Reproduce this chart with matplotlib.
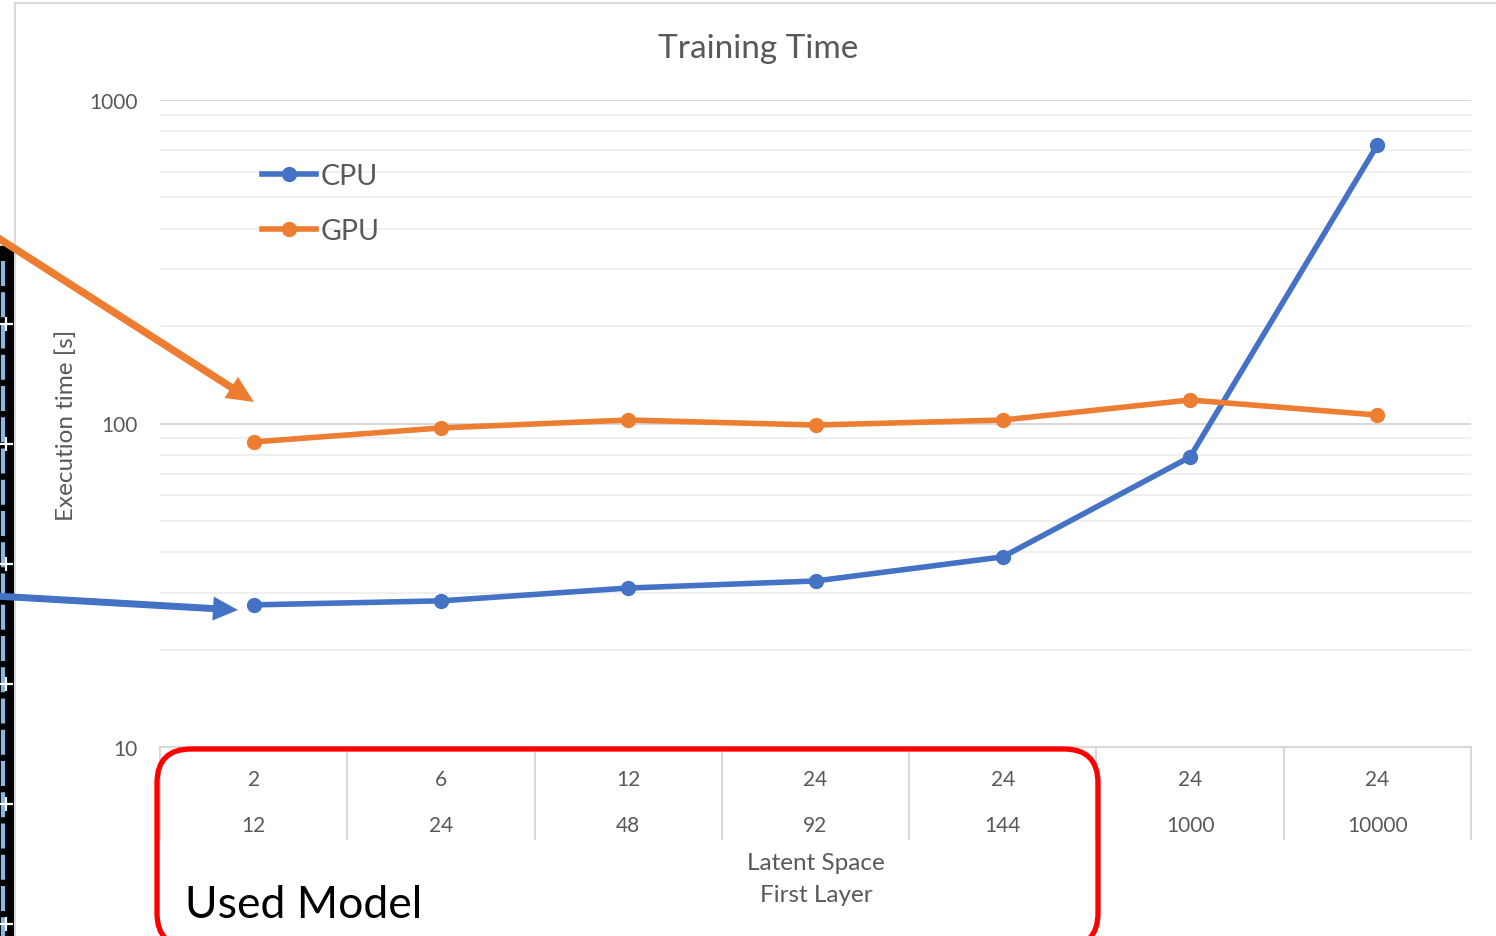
import numpy as np
import matplotlib
matplotlib.use("Agg")
import matplotlib.pyplot as plt
from matplotlib.patches import FancyBboxPatch, Rectangle
from matplotlib.ticker import FixedLocator, NullFormatter, LogLocator

plt.rcParams['font.family'] = ['Lato', 'DejaVu Sans']

# Datos
latent_space = ["2", "6", "12", "24", "24", "24", "24"]
first_layer = ["12", "24", "48", "92", "144", "1000", "10000"]
cpu_time = [27.5, 28.3, 31.0, 32.6, 38.7, 78.8, 726]
gpu_time = [87.7, 96.9, 102.5, 98.9, 102.5, 118.2, 106.2]

W, H = 1496, 937
GRAY_TXT = "#595959"
BLUE = "#4472C4"
ORANGE = "#ED7D31"


def py(y):
    # pixel desde arriba -> coordenada de la capa (origen abajo)
    return H - y


fig = plt.figure(figsize=(W / 100, H / 100), dpi=100)

# capa de fondo en coordenadas de pixel (bordes, franja)
bg = fig.add_axes([0, 0, 1, 1])
bg.set_xlim(0, W)
bg.set_ylim(0, H)
bg.axis("off")

# borde del area del grafico
bg.plot([15, W], [py(4), py(4)], color="#d9d9d9", lw=1.5)
bg.plot([15, 15], [py(4), 0], color="#d9d9d9", lw=1.5)

# franja oscura de la izquierda (recorte de captura)
bg.add_patch(Rectangle((0, 0), 14, py(247), color="black", zorder=1))
bg.plot([3.5, 3.5], [py(262), 0], color="#8ab8e6", lw=3, ls=(0, (6, 1.5)), zorder=2)
marks_y = py(np.arange(325, H, 120))
bg.plot(np.full(len(marks_y), 6), marks_y, ls="none", marker="+", ms=10, mew=1.6,
        color="white", zorder=3)

# ejes principales
x0, x1, ytop, ybot = 160, 1471, 101, 748
ax = fig.add_axes([x0 / W, 1 - ybot / H, (x1 - x0) / W, (ybot - ytop) / H])
ax.set_facecolor("none")
x = np.arange(len(first_layer))

ax.set_yscale("log")
ax.set_ylim(10, 1000)
ax.set_xlim(-0.5, len(x) - 0.5)
ax.yaxis.set_major_locator(FixedLocator([10, 100, 1000]))
ax.set_yticklabels(["10", "100", "1000"])
ax.yaxis.set_minor_locator(LogLocator(base=10, subs=np.arange(2, 10)))
ax.yaxis.set_minor_formatter(NullFormatter())
ax.tick_params(axis="y", which="both", length=0, pad=16, labelsize=15, labelcolor=GRAY_TXT)
ax.set_xticks([])
ax.grid(True, which="major", axis="y", color="#d4d4d4", lw=1.3)
ax.grid(True, which="minor", axis="y", color="#ececec", lw=1.1)
ax.set_axisbelow(True)
for s in ["top", "left", "right"]:
    ax.spines[s].set_visible(False)
ax.spines["bottom"].set_color("#d9d9d9")
ax.spines["bottom"].set_linewidth(1.5)

ax.plot(x, cpu_time, color=BLUE, lw=4.0, marker="o", ms=10, label="CPU", zorder=3)
ax.plot(x, gpu_time, color=ORANGE, lw=4.0, marker="o", ms=10, label="GPU", zorder=3)

# eje de categorias de dos niveles
trans = ax.get_xaxis_transform()
axh = ybot - ytop
for i in range(len(x) + 1):
    ax.plot([i - 0.5, i - 0.5], [0, -92 / axh], transform=trans, color="#d9d9d9",
            lw=1.5, clip_on=False)
for i, (a, b) in enumerate(zip(latent_space, first_layer)):
    ax.text(i, -32 / axh, a, transform=trans, ha="center", va="center",
            fontsize=15, color=GRAY_TXT)
    ax.text(i, -78 / axh, b, transform=trans, ha="center", va="center",
            fontsize=15, color=GRAY_TXT)

fig.text(816 / W, 1 - 864 / H, "Latent Space", ha="center", va="center", fontsize=17.5, color=GRAY_TXT)
fig.text(816 / W, 1 - 896 / H, "First Layer", ha="center", va="center", fontsize=17.5, color=GRAY_TXT)
fig.text(758 / W, 1 - 49 / H, "Training Time", ha="center", va="center", fontsize=24, color=GRAY_TXT)
fig.text(66 / W, 1 - 425 / H, "Execution time [s]", ha="center", va="center", rotation=90,
         fontsize=17.5, color=GRAY_TXT)

leg = ax.legend(loc="upper left", bbox_to_anchor=(262 / W, 1 - 164 / H),
                bbox_transform=fig.transFigure, frameon=False, fontsize=20.5,
                handlelength=1.9, handletextpad=0.15, labelspacing=1.02, borderpad=0,
                borderaxespad=0)
for t in leg.get_texts():
    t.set_color(GRAY_TXT)

# anotaciones: flechas y recuadro rojo
ov = fig.add_axes([0, 0, 1, 1])
ov.set_xlim(0, W)
ov.set_ylim(0, H)
ov.axis("off")
# flecha naranja
sx, sy, tx, ty = -5, py(237), 254, py(403)
ov.arrow(sx, sy, tx - sx, ty - sy, width=7.5, head_width=25, head_length=27,
         length_includes_head=True, color=ORANGE, lw=0)
# flecha azul
sx, sy, tx, ty = -5, py(597), 238, py(611)
ov.arrow(sx, sy, tx - sx, ty - sy, width=7, head_width=24, head_length=25,
         length_includes_head=True, color=BLUE, lw=0)
ov.add_patch(FancyBboxPatch((157, py(948)), 1098 - 157, 948 - 750,
                            boxstyle="round,pad=0,rounding_size=34",
                            fill=False, ec="#ff0000", lw=3.8, clip_on=False))
ov.text(185, py(906), "Used Model", ha="left", va="center", fontsize=32, color="black")

fig.savefig("out.png", dpi=100)
